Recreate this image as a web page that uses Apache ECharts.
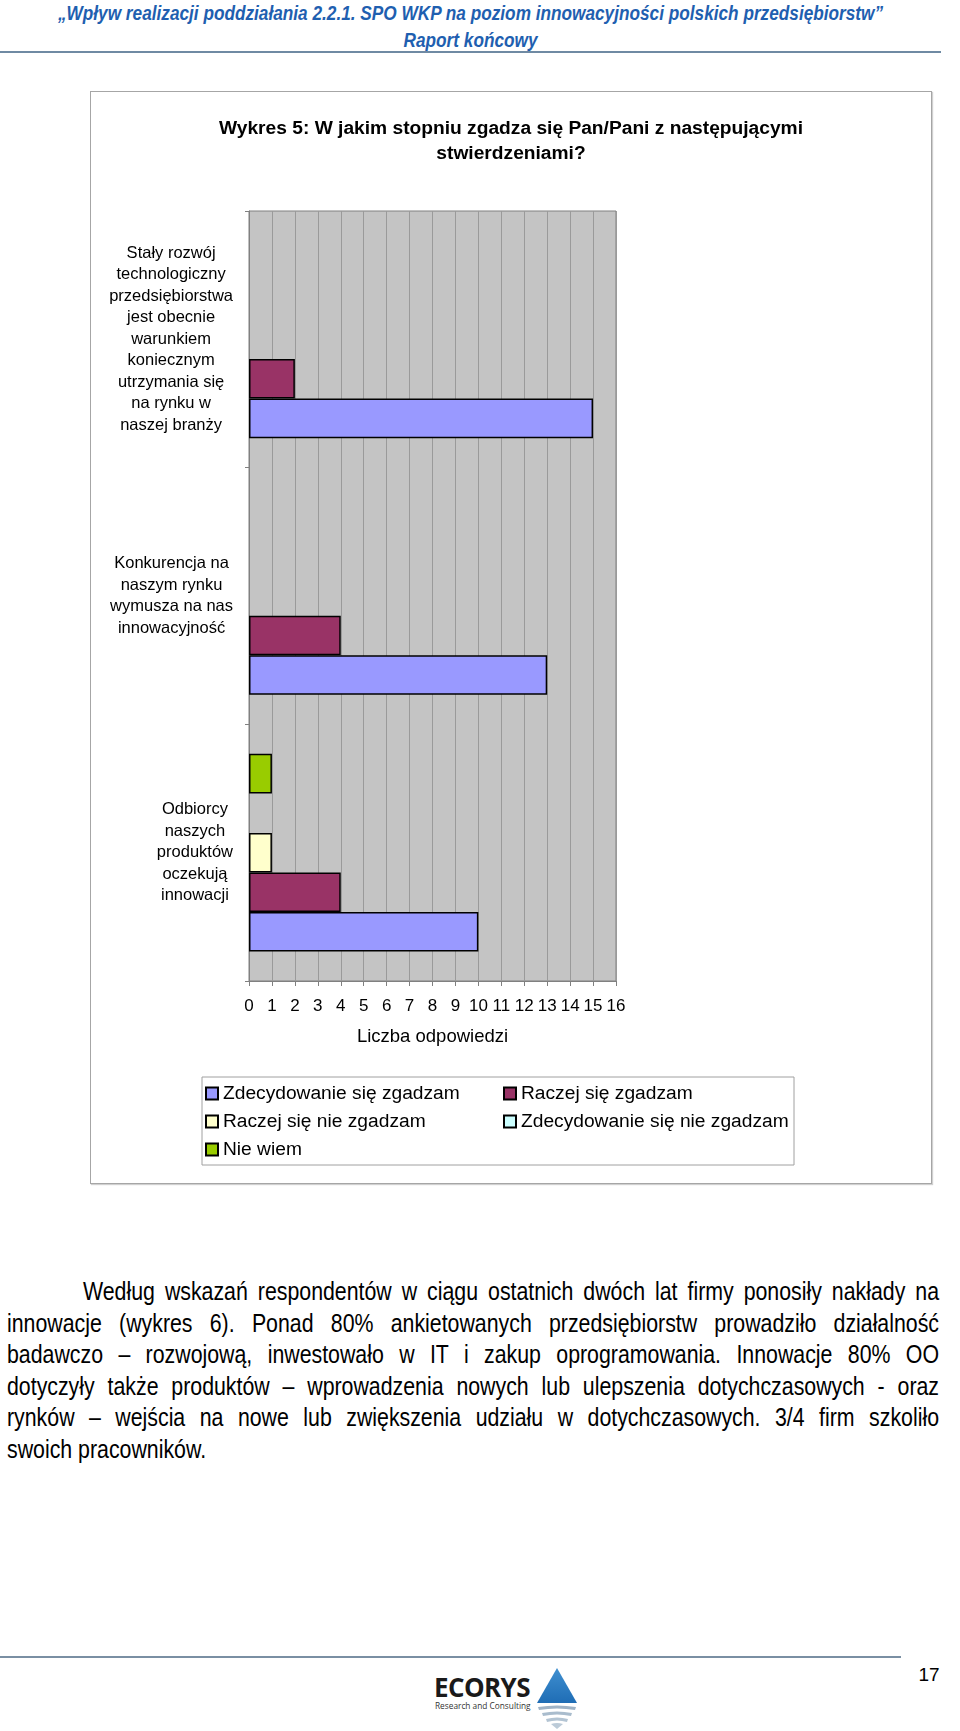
<!DOCTYPE html>
<html>
<head>
<meta charset="utf-8">
<script src="https://cdn.jsdelivr.net/npm/echarts@6/dist/echarts.min.js"></script>
<style>
html,body{margin:0;padding:0;background:#fff;}
body{width:960px;height:1731px;position:relative;overflow:hidden;font-family:'Liberation Sans',Arial,sans-serif;}
.sq{transform:scaleX(0.82);transform-origin:0 0;}
.hdr{position:absolute;left:0;width:1147.6px;text-align:center;color:#1f5fb0;font-weight:bold;font-style:italic;font-size:21px;line-height:24px;white-space:nowrap;}
#h1{top:1px;}
#h2{top:28px;}
#rule1{position:absolute;left:0;top:51px;width:941px;height:2px;background:#6f8aa3;}
#chart{position:absolute;left:90px;top:91px;width:840px;height:1091px;border:1px solid #a6a6a6;box-shadow:1px 1px 1px #d0d0d0;}
#para{position:absolute;left:7px;top:1276px;width:1136.6px;font-size:26px;line-height:31.6px;color:#000;}
#para div{text-align:justify;text-align-last:justify;}
#para div.first{text-indent:92.7px;}
#para div.last{text-align:left;text-align-last:left;}
#rule2{position:absolute;left:0;top:1656px;width:901px;height:2px;background:#7a8fa3;}
#pnum{position:absolute;left:912px;top:1664px;width:34px;text-align:center;font-size:19px;line-height:22px;color:#000;}
#logo{position:absolute;left:430px;top:1662px;width:160px;height:69px;}
#ecorys{position:absolute;left:4px;top:11px;font-family:'Open Sans','Liberation Sans',sans-serif;font-weight:bold;font-size:26px;line-height:28px;color:#1a1a1a;letter-spacing:-0.6px;}
#rc{position:absolute;left:5px;top:39px;font-family:'Open Sans','Liberation Sans',sans-serif;font-size:8.3px;line-height:10px;color:#333;}
</style>
</head>
<body>
<div id="h1" class="hdr sq">„Wpływ realizacji poddziałania 2.2.1. SPO WKP na poziom innowacyjności polskich przedsiębiorstw”</div>
<div id="h2" class="hdr sq">Raport końcowy</div>
<div id="rule1"></div>
<div id="chart"></div>
<div id="para" class="sq">
<div class="first">Według wskazań respondentów w ciągu ostatnich dwóch lat firmy ponosiły nakłady na</div>
<div>innowacje (wykres 6). Ponad 80% ankietowanych przedsiębiorstw prowadziło działalność</div>
<div>badawczo – rozwojową, inwestowało w IT i zakup oprogramowania. Innowacje 80% OO</div>
<div>dotyczyły także produktów – wprowadzenia nowych lub ulepszenia dotychczasowych - oraz</div>
<div>rynków – wejścia na nowe lub zwiększenia udziału w dotychczasowych. 3/4 firm szkoliło</div>
<div class="last">swoich pracowników.</div>
</div>
<div id="rule2"></div>
<div id="pnum">17</div>
<div id="logo">
  <div id="ecorys">ECORYS</div>
  <div id="rc">Research and Consulting</div>
  <svg style="position:absolute;left:104px;top:4px" width="46" height="64" viewBox="0 0 46 64">
    <defs><linearGradient id="tg" x1="0" y1="0" x2="0" y2="1"><stop offset="0" stop-color="#3f8fd0"/><stop offset="1" stop-color="#1f6db5"/></linearGradient></defs>
    <polygon points="23,2 43,37 3,37" fill="url(#tg)"/>
    <path d="M4,41 Q23,38 42,41 L41,44 Q23,41 5,44 Z" fill="#9fb3c6"/>
    <path d="M8,47 Q23,44 38,47 L37,50 Q23,47 9,50 Z" fill="#a9bccd"/>
    <path d="M12,53 Q23,50 34,53 L33,56 Q23,53 13,56 Z" fill="#b3c4d3"/>
    <path d="M17,58 Q23,56 29,58 L23,63 Z" fill="#bccbd8"/>
  </svg>
</div>
<script>
// ---- data ----
const categories = [
  'Stały rozwój\ntechnologiczny\nprzedsiębiorstwa\njest obecnie\nwarunkiem\nkoniecznym\nutrzymania się\nna rynku w\nnaszej branży',
  'Konkurencja na\nnaszym rynku\nwymusza na nas\ninnowacyjność',
  'Odbiorcy\nnaszych\nproduktów\noczekują\ninnowacji'
];
const seriesNames = ['Zdecydowanie się zgadzam', 'Raczej się zgadzam', 'Raczej się nie zgadzam', 'Zdecydowanie się nie zgadzam', 'Nie wiem'];
const zdecydowanieZgadzam = [15, 13, 10];
const raczejZgadzam = [2, 4, 4];
const raczejNieZgadzam = [0, 0, 1];
const zdecydowanieNieZgadzam = [0, 0, 0];
const nieWiem = [0, 0, 1];
const xTicks = [0, 16, 1]; // min, max, interval
const axisName = 'Liczba odpowiedzi';
const chartTitle = 'Wykres 5: W jakim stopniu zgadza się Pan/Pani z następującymi\nstwierdzeniami?';

const colors = ['#9999ff', '#993366', '#ffffcc', '#ccffff', '#99cc00'];
const valueSets = [zdecydowanieZgadzam, raczejZgadzam, raczejNieZgadzam, zdecydowanieNieZgadzam, nieWiem];

function mkData(arr) {
  return arr.map(v => v === 0 ? { value: 0, itemStyle: { borderWidth: 0 } } : v);
}

// series drawn top-to-bottom inside each band: Nie wiem at top, Zdecydowanie się zgadzam at bottom
const order = [4, 3, 2, 1, 0];
const series = order.map(i => ({
  name: seriesNames[i],
  type: 'bar',
  data: mkData(valueSets[i]),
  barGap: '0%',
  barCategoryGap: '23%',
  itemStyle: { color: colors[i], borderColor: '#000', borderWidth: 1.5 }
}));

const chart = echarts.init(document.getElementById('chart'), null, { renderer: 'canvas' });
chart.setOption({
  animation: false,
  textStyle: { fontFamily: "'Liberation Sans', Arial, sans-serif", color: '#000' },
  title: {
    text: chartTitle,
    left: 'center',
    top: 19,
    textStyle: { fontSize: 19.2, fontWeight: 'bold', lineHeight: 25, color: '#000', fontFamily: "'Liberation Sans', Arial, sans-serif" }
  },
  grid: {
    left: 158, top: 119, width: 367, height: 770,
    show: true, backgroundColor: '#c4c4c4', borderColor: '#808080', borderWidth: 1,
    containLabel: false
  },
  xAxis: {
    type: 'value',
    min: xTicks[0], max: xTicks[1], interval: xTicks[2],
    name: axisName,
    nameLocation: 'middle',
    nameGap: 46,
    nameTextStyle: { fontSize: 18.5, color: '#000' },
    axisLine: { show: true, lineStyle: { color: '#808080', width: 1 } },
    axisTick: { show: true, length: 5, lineStyle: { color: '#808080' } },
    axisLabel: { fontSize: 17, color: '#000', margin: 17 },
    splitLine: { show: true, lineStyle: { color: '#9a9a9a', width: 1 } }
  },
  yAxis: {
    type: 'category',
    data: categories,
    inverse: true,
    axisLine: { show: true, lineStyle: { color: '#808080', width: 1 } },
    axisTick: { show: true, length: 4, lineStyle: { color: '#808080' } },
    axisLabel: {
      margin: 16,
      align: 'right',
      formatter: v => v.split('\n').map(l => '{c|' + l + '}').join('\n'),
      rich: { c: { align: 'center', fontSize: 16.5, lineHeight: 21.5, color: '#000' } }
    },
    splitLine: { show: false }
  },
  legend: {
    data: seriesNames,
    orient: 'horizontal',
    left: 111, top: 985, width: 600,
    padding: [7, 2, 6, 3],
    itemGap: 9,
    itemWidth: 12, itemHeight: 12,
    icon: 'rect',
    borderColor: '#a0a0a0', borderWidth: 1,
    formatter: name => '{t|' + name + '}',
    textStyle: {
      rich: { t: { width: 271, fontSize: 19.2, lineHeight: 20, color: '#000' } }
    }
  },
  series: series
});
</script>
</body>
</html>
